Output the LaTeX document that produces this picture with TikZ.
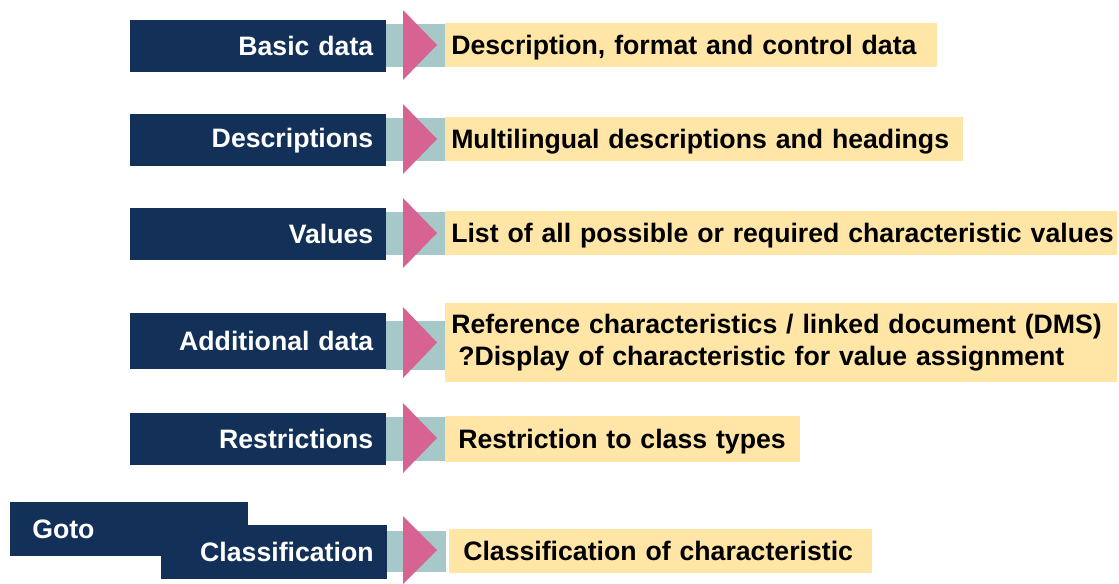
\documentclass[tikz,border=0pt]{standalone}
\usepackage{fontspec}
\setmainfont{Liberation Sans}
\definecolor{navy}{HTML}{133158}
\definecolor{teal}{HTML}{A6C8C9}
\definecolor{pinkarr}{HTML}{D66392}
\definecolor{sand}{HTML}{FFE6A6}
\tikzset{
  lbl/.style={fill=navy, text=white, font=\fontsize{20}{24}\selectfont\bfseries, anchor=north west, inner sep=0pt, align=right},
  desc/.style={fill=sand, text=black, font=\fontsize{20}{24}\selectfont\bfseries, anchor=north west, inner sep=0pt, align=left},
  onedesc/.style={desc, text depth=0pt},
  band/.style={fill=teal},
  tri/.style={fill=pinkarr}
}
\newcommand\rowshapes[4]{% #1 top of band, #2 bottom of band, #3 triangle top, #4 triangle bottom
  \fill[band] (386,#1) rectangle (446,#2);
  \fill[tri] (403,#3) -- (437,{(#3+#4)/2}) -- (403,#4) -- cycle;
}
\begin{document}
\begin{tikzpicture}[x=0.75pt,y=-0.75pt]
\useasboundingbox (0,0) rectangle (1119,583);
% row 1
\rowshapes{24}{67}{10}{80}
\node[lbl, minimum width=192pt, minimum height=39pt, text width=172.5pt] (l1) at (130,20) {Basic data};
\node[onedesc, minimum width=369pt, minimum height=33pt, text width=369pt] (d1) at (445,23) {\hspace*{4.5pt}Description, format and control data};
% row 2
\rowshapes{118}{161}{104}{174}
\node[lbl, minimum width=192pt, minimum height=39pt, text width=172.5pt] (l2) at (130,114) {Descriptions};
\node[onedesc, minimum width=388pt, minimum height=33pt, text width=388pt] (d2) at (445,117) {\hspace*{4.5pt}Multilingual descriptions and headings};
% row 3
\rowshapes{212}{255}{198}{268}
\node[lbl, minimum width=192pt, minimum height=39pt, text width=172.5pt] (l3) at (130,208) {Values};
\node[onedesc, minimum width=504pt, minimum height=33pt, text width=504pt] (d3) at (445,211) {\hspace*{4.5pt}List of all possible or required characteristic values};
% row 4
\rowshapes{321}{370}{307}{378}
\node[lbl, minimum width=192pt, minimum height=42pt, text width=172.5pt] (l4) at (130,313) {Additional data};
\node[desc, minimum width=504pt, minimum height=59pt, text width=504pt] (d4) at (445,303) {\hspace*{4.5pt}Reference characteristics / linked document (DMS)\\\hspace*{9.75pt}?Display of characteristic for value assignment};
% row 5
\rowshapes{417}{461}{403}{473}
\node[lbl, minimum width=192pt, minimum height=39pt, text width=172.5pt] (l5) at (130,413) {Restrictions};
\node[onedesc, minimum width=266pt, minimum height=34pt, text width=266pt] (d5) at (445,416) {\hspace*{9.75pt}Restriction to class types};
% row 6
\node[lbl, minimum width=178pt, minimum height=40pt, text width=178pt, align=left] (g6) at (10,502) {\hspace*{16.5pt}Goto};
\rowshapes{531}{572}{516}{584}
\node[onedesc, minimum width=317pt, minimum height=33pt, text width=317pt] (d6) at (449,529) {\hspace*{10.5pt}Classification of characteristic};
\node[lbl, minimum width=169pt, minimum height=40pt, text width=149.5pt] (l6) at (161,525) {Classification};
\end{tikzpicture}
\end{document}
